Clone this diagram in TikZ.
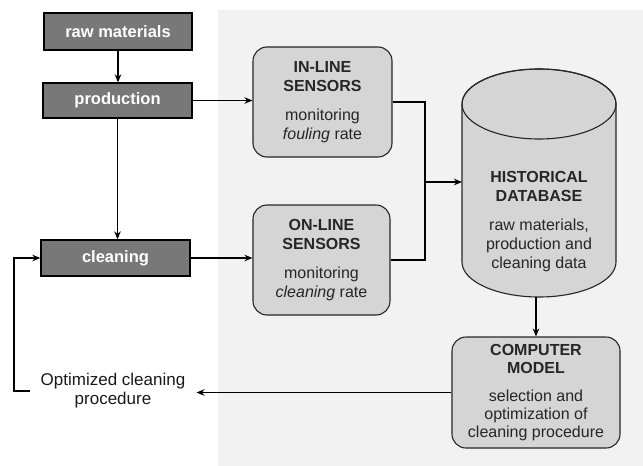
\documentclass[tikz,border=0pt]{standalone}
\usepackage{fontspec}
\setmainfont{Liberation Sans}
\usetikzlibrary{arrows.meta}
\definecolor{panelgray}{HTML}{F2F2F2}
\definecolor{darkfill}{HTML}{787878}
\definecolor{softfill}{HTML}{D5D5D5}
\definecolor{inktext}{HTML}{262626}
\begin{document}
\begin{tikzpicture}[x=1pt,y=-1pt,
  stepbox/.style={draw=black,line width=1.3pt,fill=darkfill,text=white,
    font=\bfseries\fontsize{16.5}{18}\selectfont,inner sep=0pt},
  softbox/.style={draw=black!85,line width=1.1pt,fill=softfill,rounded corners=14pt,
    align=center,text=inktext,inner sep=0pt,font=\fontsize{16}{19}\selectfont},
  plain/.style={align=center,text=inktext,inner sep=0pt,font=\fontsize{16}{19}\selectfont},
  arr/.style={line width=1.3pt,-{Stealth[length=8pt,width=6.5pt]}},
  wire/.style={line width=1.3pt}]
\useasboundingbox (0,0) rectangle (643,466);
% light panel behind the right part
\fill[panelgray] (218,10) rectangle (643,466);

% process boxes on the left
\node[stepbox,minimum width=148pt,minimum height=37pt] (raw) at (118,31.5) {raw materials};
\node[stepbox,minimum width=149pt,minimum height=35pt] (prod) at (117.5,100.5) {production};
\node[stepbox,minimum width=149pt,minimum height=36pt] (clean) at (115.5,258) {cleaning};

% sensor boxes
\node[softbox,minimum width=139pt,minimum height=110pt] (inl) at (322.5,102)
  {\textbf{IN-LINE}\\\textbf{SENSORS}\\[10pt]monitoring\\\textit{fouling} rate};
\node[softbox,minimum width=137pt,minimum height=110pt] (onl) at (321.5,260)
  {\textbf{ON-LINE}\\\textbf{SENSORS}\\[10pt]monitoring\\\textit{cleaning} rate};

% historical database cylinder
\path[draw=black!85,line width=1.1pt,fill=softfill]
  (462,104) -- (462,262) arc[start angle=180,end angle=0,x radius=77,y radius=35]
  -- (616,104) arc[start angle=0,end angle=-180,x radius=77,y radius=35] -- cycle;
\draw[black!85,line width=1.1pt] (539,104) ellipse[x radius=77,y radius=35];
\node[plain] (db) at (539,222)
  {\textbf{HISTORICAL}\\\textbf{DATABASE}\\[10pt]raw materials,\\production and\\cleaning data};
\coordinate (dbw) at (462,182);
\coordinate (dbs) at (536,297);

% computer model
\node[softbox,minimum width=168pt,minimum height=111pt,font=\fontsize{16}{18}\selectfont] (cm) at (536,392.5)
  {\textbf{COMPUTER}\\\textbf{MODEL}\\[10pt]selection and\\optimization of\\cleaning procedure};

% result text
\node[plain,text=black!90,font=\fontsize{17}{19}\selectfont,inner xsep=11pt] (opt) at (113,391)
  {Optimized cleaning\\procedure};

% connectors
\draw[arr] (raw.south) -- (raw.south |- prod.north);
\draw[arr] (prod.south) -- (prod.south |- clean.north);
\draw[arr] (prod.east) -- (prod.east -| inl.west);
\draw[arr] (clean.east) -- (clean.east -| onl.west);
\coordinate (bus) at (425,182);
\draw[wire] (inl.east) -| (bus) |- (onl.east);
\draw[arr] (bus) -- (dbw);
\draw[arr] (dbs) -- (dbs |- cm.north);
\draw[arr] (cm.west) -- (cm.west -| opt.east);
\coordinate (fb) at (14,391);
\draw[arr] (opt.west) -- (fb) |- (clean.west);
\end{tikzpicture}
\end{document}
